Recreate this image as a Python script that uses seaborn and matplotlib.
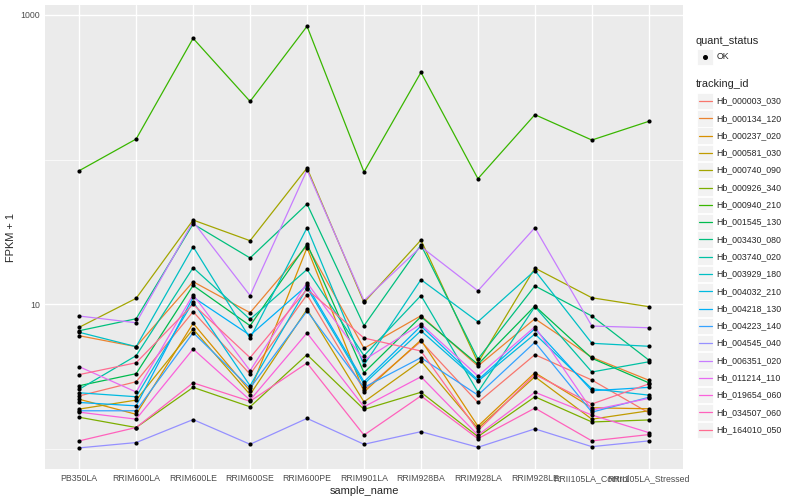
import pandas as pd
import matplotlib.pyplot as plt
import seaborn as sns
from matplotlib.lines import Line2D
from matplotlib.patches import Rectangle

# Samples (x axis order)
samples = ["PB350LA", "RRIM600LA", "RRIM600LE", "RRIM600SE", "RRIM600PE",
           "RRIM901LA", "RRIM928BA", "RRIM928LA", "RRIM928LE",
           "RRII105LA_Control", "RRII105LA_Stressed"]

tracking_ids = ["Hb_000003_030", "Hb_000134_120", "Hb_000237_020", "Hb_000581_030",
                "Hb_000740_090", "Hb_000926_340", "Hb_000940_210", "Hb_001545_130",
                "Hb_003430_080", "Hb_003740_020", "Hb_003929_180", "Hb_004032_210",
                "Hb_004218_130", "Hb_004223_140", "Hb_004545_040", "Hb_006351_020",
                "Hb_011214_110", "Hb_019654_060", "Hb_034507_060", "Hb_164010_050"]

# ggplot default hue palette for 20 levels
palette = ["#F8766D", "#EA8331", "#D89000", "#C09B00", "#A3A500", "#7CAE00",
           "#39B600", "#00BB4E", "#00BF7D", "#00C1A3", "#00BFC4", "#00BAE0",
           "#00B0F6", "#35A2FF", "#9590FF", "#C77CFF", "#E76BF3", "#FA62DB",
           "#FF62BC", "#FF6C91"]

# FPKM + 1 per gene, one value per sample
hb_000003_030 = [2.33, 2.92, 8.89, 3.29, 11.65, 2.56, 5.55, 2.10, 4.49, 3.00, 1.78]
hb_000134_120 = [6.07, 5.10, 14.33, 8.75, 25.4, 4.97, 8.34, 3.75, 7.95, 4.31, 2.99]
hb_000237_020 = [2.21, 1.74, 7.39, 2.52, 24.6, 2.48, 5.67, 1.44, 3.37, 1.93, 1.90]
hb_000581_030 = [1.89, 2.18, 6.75, 2.38, 9.24, 2.12, 4.06, 1.39, 3.16, 1.61, 1.84]
hb_000740_090 = [6.94, 11.0, 38.2, 27.5, 87.4, 10.3, 27.8, 3.95, 17.8, 11.1, 9.63]
hb_000926_340 = [1.66, 1.41, 2.67, 1.96, 4.49, 1.88, 2.47, 1.22, 2.30, 1.54, 1.59]
hb_000940_210 = [83.7, 138.5, 687, 252, 832, 82.0, 400, 73.7, 204, 136.3, 183.5]
hb_001545_130 = [2.74, 3.32, 13.5, 7.12, 26.1, 3.37, 8.21, 3.85, 9.73, 4.24, 2.87]
hb_003430_080 = [6.57, 7.95, 35.9, 20.9, 49.3, 7.12, 25.7, 4.19, 13.4, 8.30, 4.12]
hb_003740_020 = [2.59, 4.42, 17.9, 7.88, 17.4, 4.42, 11.5, 2.48, 9.63, 3.41, 4.01]
hb_003929_180 = [6.41, 5.10, 25.0, 5.82, 33.8, 3.81, 14.8, 7.58, 17.1, 5.38, 5.13]
hb_004032_210 = [2.45, 2.30, 10.4, 2.74, 13.0, 2.82, 6.57, 2.94, 6.24, 2.61, 2.36]
hb_004218_130 = [2.10, 1.99, 11.2, 6.11, 13.5, 2.92, 7.08, 3.00, 6.78, 2.53, 2.67]
hb_004223_140 = [1.84, 1.84, 6.37, 2.64, 8.99, 2.67, 4.28, 2.36, 5.47, 1.80, 2.28]
hb_004545_040 = [1.02, 1.11, 1.60, 1.08, 1.63, 1.08, 1.32, 1.03, 1.38, 1.04, 1.14]
hb_006351_020 = [8.30, 7.46, 37.2, 11.5, 84.6, 10.6, 25.0, 12.4, 33.8, 7.08, 6.89]
hb_011214_110 = [3.71, 2.48, 11.65, 3.48, 14.1, 4.12, 7.31, 3.20, 7.00, 1.86, 2.24]
hb_019654_060 = [1.80, 1.61, 4.91, 2.18, 6.34, 1.96, 3.16, 1.25, 2.47, 1.72, 1.30]
hb_034507_060 = [1.14, 1.41, 2.87, 2.14, 3.93, 1.25, 2.33, 1.18, 1.92, 1.14, 1.26]
hb_164010_050 = [3.27, 3.95, 10.0, 4.28, 12.7, 5.85, 4.76, 1.34, 3.28, 2.05, 2.82]

series = [hb_000003_030, hb_000134_120, hb_000237_020, hb_000581_030, hb_000740_090,
          hb_000926_340, hb_000940_210, hb_001545_130, hb_003430_080, hb_003740_020,
          hb_003929_180, hb_004032_210, hb_004218_130, hb_004223_140, hb_004545_040,
          hb_006351_020, hb_011214_110, hb_019654_060, hb_034507_060, hb_164010_050]

rows = []
for tid, vals in zip(tracking_ids, series):
    for s, v in zip(samples, vals):
        rows.append({"tracking_id": tid, "sample_name": s, "fpkm": v})
df = pd.DataFrame(rows)

sns.set_theme(style="darkgrid", rc={"axes.facecolor": "#EBEBEB",
                                    "grid.color": "white"})
plt.rcParams["font.family"] = ["Liberation Sans", "DejaVu Sans"]

W, H = 800, 500
def fx(px):
    return px / W
def fy(py):
    return 1 - py / H

fig = plt.figure(figsize=(8, 5), dpi=100)
ax = fig.add_axes([fx(45), fy(469), (683 - 45) / W, (469 - 5) / H])

sns.lineplot(data=df, x="sample_name", y="fpkm", hue="tracking_id",
             hue_order=tracking_ids, palette=palette, sort=False,
             linewidth=0.9, legend=False, ax=ax, zorder=2)
sns.scatterplot(data=df, x="sample_name", y="fpkm", color="black", s=9,
                linewidth=0, legend=False, ax=ax, zorder=3)

ax.set_yscale("log")
ax.set_ylim(0.729, 1167)
ax.set_xlim(-0.6, len(samples) - 0.4)
ax.set_yticks([10, 1000])
ax.set_yticklabels(["10", "1000"])
ax.set_yticks([1, 100], minor=True)
ax.set_yticklabels([], minor=True)

ax.grid(which="major", color="white", linewidth=1.0)
ax.grid(which="minor", axis="y", color="white", linewidth=0.5)
ax.set_axisbelow(True)
for sp in ax.spines.values():
    sp.set_visible(False)

ax.tick_params(which="major", length=2.0, width=0.7, color="#333333",
               pad=1.6, labelsize=6.3, labelcolor="#4D4D4D")
ax.tick_params(which="minor", length=0)
ax.set_xlabel("sample_name", fontsize=7.9, labelpad=2)
ax.set_ylabel("FPKM + 1", fontsize=7.9, labelpad=3)

# legend drawn ggplot-style on the right
def key_box(yc):
    fig.add_artist(Rectangle((fx(697), fy(yc + 8.2)), 16.4 / W, 16.4 / H,
                             transform=fig.transFigure, facecolor="#F2F2F2",
                             edgecolor="white", linewidth=0.6))

fig.text(fx(696), fy(40.7), "quant_status", fontsize=7.9, va="center")
key_box(56.7)
fig.add_artist(Line2D([fx(705)], [fy(56.7)], marker="o", color="black",
                      markersize=2.6, linestyle="none", transform=fig.transFigure))
fig.text(fx(716.7), fy(56.7), "OK", fontsize=6.3, va="center")

fig.text(fx(696), fy(84), "tracking_id", fontsize=7.9, va="center")
for i, (tid, col) in enumerate(zip(tracking_ids, palette)):
    yc = 101 + 17.3 * i
    key_box(yc)
    fig.add_artist(Line2D([fx(698.5), fx(712)], [fy(yc), fy(yc)], color=col,
                          linewidth=0.9, transform=fig.transFigure))
    fig.text(fx(716.7), fy(yc), tid, fontsize=6.3, va="center")

fig.savefig("out.png", dpi=100)
